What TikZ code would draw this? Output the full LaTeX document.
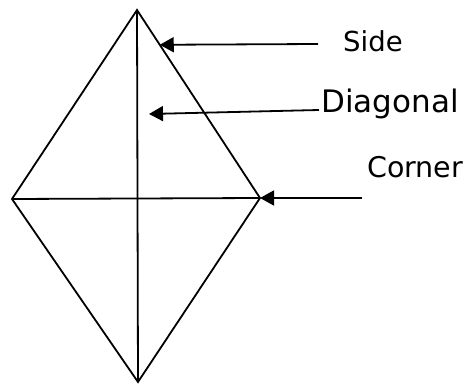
\documentclass[tikz,border=0pt]{standalone}
\usepackage{fontspec}
\setmainfont{DejaVu Sans}
\usetikzlibrary{arrows.meta,calc}

\begin{document}
\begin{tikzpicture}[
    x=1pt, y=-1pt,
    >=Stealth,
    edge/.style={line width=1.8pt, line join=miter, color=black},
    arr/.style={-{Triangle[length=14pt, width=15pt]}, line width=1.8pt},
    lbl/.style={anchor=base west, inner sep=0pt, font=\fontsize{#1}{#1}\selectfont},
    lbl/.default=27,
]
\useasboundingbox (0,0) rectangle (472,385);

% ── Rhombus corners ──
\coordinate (top)    at (137,10);
\coordinate (right)  at (260,198);
\coordinate (bottom) at (138,382);
\coordinate (left)   at (12,199);

% ── Rhombus and diagonals ──
\draw[edge] (top) -- (right) -- (bottom) -- (left) -- cycle;
\draw[edge] (top) -- (bottom);
\draw[edge] (left) -- (right);

% ── Labels ──
\node[lbl=27.5] (side) at (343,52) {Side};
\node[lbl=31] (diag) at (321,113) {Diagonal};
\node[lbl=28.5] (corner) at (367,178) {Corner};

% ── Arrow targets ──
\coordinate (sidept) at ($(top)!0.185!(right)$);
\coordinate (diagpt) at (149,114);
\coordinate (sidetail) at (318,44);
\coordinate (diagtail) at (319,110);
\coordinate (cornertail) at (362,198);

% ── Arrows ──
\draw[arr] (sidetail) -- (sidept);
\draw[arr] (diagtail) -- (diagpt);
\draw[arr] (cornertail) -- (right);

\end{tikzpicture}
\end{document}
